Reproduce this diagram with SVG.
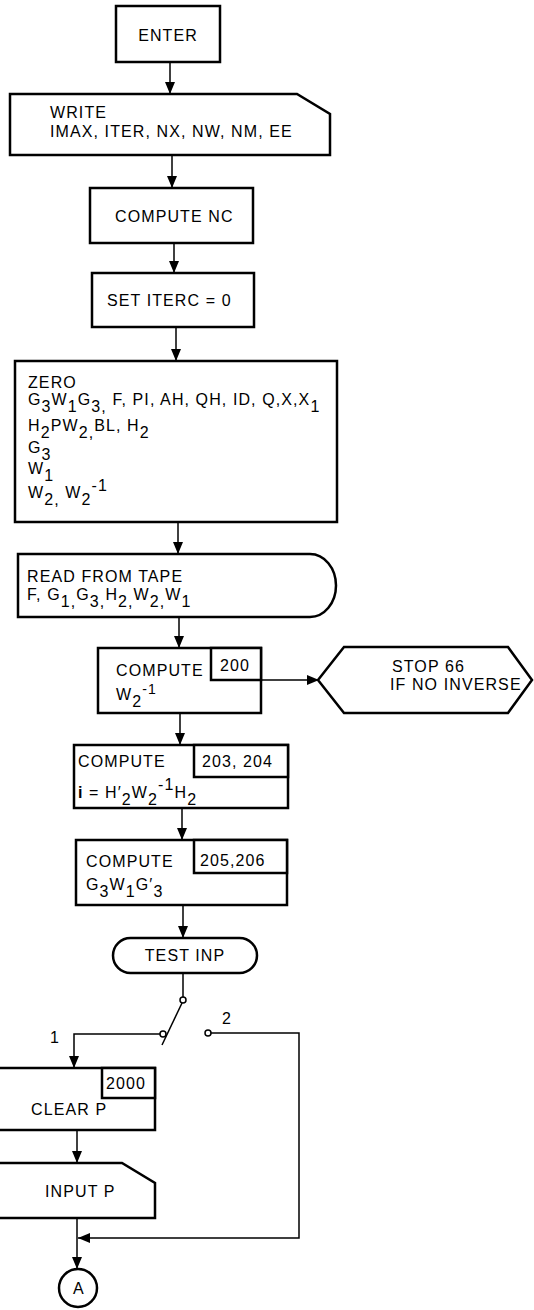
<svg xmlns="http://www.w3.org/2000/svg" width="534" height="1310" viewBox="0 0 534 1310">
<style>
.b{fill:#fff;stroke:#000;stroke-width:2.5}
.c{fill:none;stroke:#000;stroke-width:1.5}
.k{fill:#fff;stroke:#000;stroke-width:1.5}
text{font-family:"Liberation Sans",Arial,sans-serif;font-size:16px;letter-spacing:1.1px;fill:#000}
.m{text-anchor:middle}
</style>
<defs>
<marker id="ar" viewBox="0 0 12 10" markerWidth="12" markerHeight="10" refX="12" refY="5" orient="auto" markerUnits="userSpaceOnUse">
<path d="M0,0 L12,5 L0,10 z" fill="#000"/>
</marker>
</defs>
<rect width="534" height="1310" fill="#fff"/>
<g id="connectors">
<path class="c" d="M170,62 V94" marker-end="url(#ar)"/>
<path class="c" d="M172,155 V188" marker-end="url(#ar)"/>
<path class="c" d="M174,243 V273" marker-end="url(#ar)"/>
<path class="c" d="M176,327 V361" marker-end="url(#ar)"/>
<path class="c" d="M178,522 V554" marker-end="url(#ar)"/>
<path class="c" d="M179,617 V648" marker-end="url(#ar)"/>
<path class="c" d="M261,680 H319" marker-end="url(#ar)"/>
<path class="c" d="M180,713 V745" marker-end="url(#ar)"/>
<path class="c" d="M182,808 V840" marker-end="url(#ar)"/>
<path class="c" d="M183,905 V938" marker-end="url(#ar)"/>
<path class="c" d="M183,973 V997"/>
<path class="c" d="M182,1003 L162,1045"/>
<path class="c" d="M160,1034 H74 V1068" marker-end="url(#ar)"/>
<path class="c" d="M211,1033 H299 V1238 H78" marker-end="url(#ar)"/>
<path class="c" d="M77,1130 V1163" marker-end="url(#ar)"/>
<path class="c" d="M77,1218 V1269" marker-end="url(#ar)"/>
<circle class="k" cx="183" cy="1000" r="3"/>
<circle class="k" cx="163" cy="1034" r="3"/>
<circle class="k" cx="208" cy="1033" r="3"/>
<text x="50" y="1043">1</text>
<text x="222" y="1024">2</text>
</g>
<g id="enter">
<rect class="b" x="116" y="6" width="104" height="56"/>
<text class="m" x="168" y="41">ENTER</text>
</g>
<g id="write">
<path class="b" d="M10,94 H297 L330,114 V155 H10 Z"/>
<text x="50" y="118">WRITE</text>
<text x="50" y="137">IMAX, ITER, NX, NW, NM, EE</text>
</g>
<g id="compute-nc">
<rect class="b" x="90" y="188" width="163" height="55"/>
<text x="115" y="222">COMPUTE NC</text>
</g>
<g id="set-iterc">
<rect class="b" x="92" y="273" width="162" height="54"/>
<text x="107" y="306">SET ITERC = 0</text>
</g>
<g id="zero">
<rect class="b" x="15" y="361" width="322" height="161"/>
<text x="28" y="388">ZERO</text>
<text x="28" y="405">G<tspan dy="7">3</tspan><tspan dy="-7">W</tspan><tspan dy="7">1</tspan><tspan dy="-7">G</tspan><tspan dy="7">3,</tspan><tspan dy="-7"> F, PI, AH, QH, ID, Q,X,X</tspan><tspan dy="7">1</tspan></text>
<text x="28" y="431">H<tspan dy="7">2</tspan><tspan dy="-7">PW</tspan><tspan dy="7">2,</tspan><tspan dy="-7">BL, H</tspan><tspan dy="7">2</tspan></text>
<text x="28" y="453">G<tspan dy="7">3</tspan></text>
<text x="28" y="474">W<tspan dy="7">1</tspan></text>
<text x="28" y="498">W<tspan dy="7">2,</tspan><tspan dy="-7"> W</tspan><tspan dy="7">2</tspan><tspan dy="-14">-1</tspan></text>
</g>
<g id="read-tape">
<path class="b" d="M18,554 H310 A26,31.5 0 0 1 310,617 H18 Z"/>
<text x="27" y="582">READ FROM TAPE</text>
<text x="27" y="600">F, G<tspan dy="7">1,</tspan><tspan dy="-7">G</tspan><tspan dy="7">3,</tspan><tspan dy="-7">H</tspan><tspan dy="7">2,</tspan><tspan dy="-7">W</tspan><tspan dy="7">2,</tspan><tspan dy="-7">W</tspan><tspan dy="7">1</tspan></text>
</g>
<g id="compute-w2inv">
<rect class="b" x="98" y="648" width="163" height="65"/>
<rect class="b" x="211" y="648" width="50" height="32"/>
<text x="220" y="671">200</text>
<text x="116" y="676">COMPUTE</text>
<text x="116" y="700">W<tspan dy="7">2</tspan><tspan dy="-13" font-size="14">-1</tspan></text>
</g>
<g id="stop66">
<path class="b" d="M318,680 L344,647 H508 L532,680 L508,713 H344 Z"/>
<text x="392" y="672">STOP 66</text>
<text x="390" y="690">IF NO INVERSE</text>
</g>
<g id="compute-i">
<rect class="b" x="74" y="745" width="214" height="63"/>
<rect class="b" x="194" y="745" width="94" height="32"/>
<text x="202" y="767">203, 204</text>
<text x="78" y="767">COMPUTE</text>
<text x="78" y="798"><tspan font-weight="bold">i</tspan> = H′<tspan dy="7">2</tspan><tspan dy="-7">W</tspan><tspan dy="7">2</tspan><tspan dy="-15">-1</tspan><tspan dy="8">H</tspan><tspan dy="7">2</tspan></text>
</g>
<g id="compute-g">
<rect class="b" x="76" y="840" width="211" height="65"/>
<rect class="b" x="194" y="840" width="93" height="33"/>
<text x="200" y="866">205,206</text>
<text x="86" y="867">COMPUTE</text>
<text x="86" y="890">G<tspan dy="7">3</tspan><tspan dy="-7">W</tspan><tspan dy="7">1</tspan><tspan dy="-7">G′</tspan><tspan dy="7">3</tspan></text>
</g>
<g id="test-inp">
<rect class="b" x="113" y="938" width="144" height="35" rx="17.5"/>
<text class="m" x="185" y="961">TEST INP</text>
</g>
<g id="clear-p">
<rect class="b" x="-10" y="1068" width="165" height="62"/>
<rect class="b" x="102" y="1068" width="53" height="30"/>
<text x="106" y="1089">2000</text>
<text x="31" y="1115">CLEAR P</text>
</g>
<g id="input-p">
<path class="b" d="M-10,1163 H122 L155,1183 V1218 H-10 Z"/>
<text x="45" y="1197">INPUT P</text>
</g>
<g id="connector-a">
<circle class="b" cx="78" cy="1288" r="19"/>
<text class="m" x="79" y="1294">A</text>
</g>
</svg>
